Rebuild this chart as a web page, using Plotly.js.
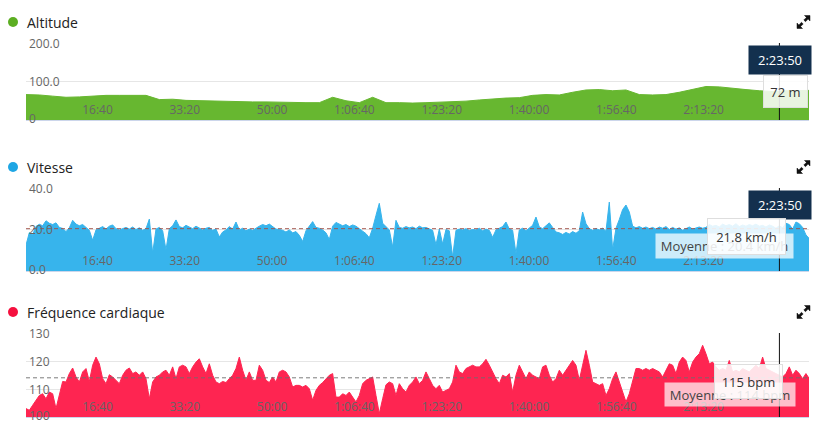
<!DOCTYPE html>
<html>
<head>
<meta charset="utf-8">
<script src="https://cdn.plot.ly/plotly-3.0.1.min.js"></script>
<style>
html,body{margin:0;padding:0;background:#fff;}
#chart{width:817px;height:427px;}
</style>
</head>
<body>
<div id="chart"></div>
<script>
// ---------------- data ----------------
const SAMPLE_STEP_S = 38.18;    // seconds between speed / heart-rate samples
const ALT_STEP_S = 152.72;      // seconds between altitude samples
const X_MAX_S = 8969;           // end of the activity (s)

const TICK_SECONDS = [1000, 2000, 3000, 4000, 5000, 6000, 7000, 8000];
const TICK_LABELS = ['16:40', '33:20', '50:00', '1:06:40', '1:23:20', '1:40:00', '1:56:40', '2:13:20'];

const ALT_TICKS = [0, 100, 200];
const ALT_TICK_LABELS = ['0', '100.0', '200.0'];
const SPEED_TICKS = [0, 20, 40];
const SPEED_TICK_LABELS = ['0.0', '20.0', '40.0'];
const HR_TICKS = [100, 110, 120, 130];
const HR_TICK_LABELS = ['100', '110', '120', '130'];

const altitude = [
  66,65,62,59,60,62,64,64,64,64,
  53,54,51,50,49,48,48,47,47,46,
  46,45,45,59,50,45,59,45,45,44,
  45,46,47,49,52,55,57,58,64,66,
  65,72,78,79,76,78,66,65,66,72,
  80,87,86,82,79,76,74,76,77,77
];

const speed = [
  12.5,18.5,17.5,21.5,22.5,21.8,24.2,23.0,22.4,23.2,
  21.0,20.5,19.0,20.8,24.4,22.6,21.8,22.4,21.0,19.6,
  14.8,19.8,20.6,21.4,20.2,21.6,22.2,20.4,19.8,20.6,
  21.0,20.2,21.2,20.0,20.8,19.6,20.4,25.0,8.6,20.2,
  21.0,19.4,10.2,20.4,21.8,24.6,21.4,20.8,22.0,21.2,
  20.4,21.6,20.8,19.8,20.6,21.0,19.6,20.2,16.4,18.8,
  19.8,21.4,20.2,23.6,19.8,20.6,19.4,20.2,19.6,20.8,
  21.6,22.4,21.8,22.6,21.4,20.2,
  20.0,19.6,18.8,19.8,18.4,19.0,17.2,14.2,19.4,21.8,
  23.8,21.0,20.6,19.8,18.4,15.2,21.6,23.4,22.6,21.8,
  22.4,21.4,22.2,21.6,20.4,19.2,18.0,16.0,20.6,26.8,
  32.6,23.0,21.2,19.8,11.6,24.4,21.0,20.6,21.4,20.8,
  21.2,20.4,21.6,20.8,21.0,20.2,19.6,12.6,20.2,13.0,
  20.0,19.4,6.8,19.6,20.2,19.8,20.4,19.6,20.0,19.8,
  20.6,19.4,20.2,19.6,16.2,19.8,20.6,21.4,23.6,20.2,
  19.6,8.4,19.8,20.6,19.4,20.8,22.0,26.0,21.2,20.4,
  21.8,23.2,21.0,18.8,
  18.4,17.6,18.6,17.8,19.0,18.2,19.4,28.4,22.8,20.4,
  19.6,20.4,19.8,20.6,19.2,33.2,10.2,20.6,24.8,29.6,
  31.8,28.4,21.6,20.8,21.4,20.6,21.2,20.4,21.0,20.2,
  21.2,20.6,21.4,20.0,21.0,20.2,20.8,19.6,20.4,21.2,
  20.2,20.8,21.2,20.6,21.0,22.4,21.6,22.0,21.2,22.6,
  21.8,22.4,21.6,22.8,21.4,22.2,21.6,22.4,21.8,22.6,
  21.6,22.0,21.2,22.2,21.6,20.6,21.8,20.8,23.0,22.4,
  20.2,23.6,22.8,21.0,17.4,15.6
];

const heartRate = [
  103.0,102.4,104.2,106.0,107.7,108.3,106.5,108.9,108.3,103.0,
  107.7,112.7,112.5,115.5,117.5,114.3,112.5,116.1,117.3,112.7,
  118.5,121.4,119.0,113.7,111.9,115.1,114.3,113.1,111.9,114.9,
  116.7,117.5,115.5,116.1,114.9,116.1,113.7,106.5,112.5,114.3,
  114.9,116.1,116.7,114.9,117.9,113.7,117.9,118.5,117.9,115.5,
  117.9,119.6,120.8,117.9,115.5,119.0,114.9,112.5,111.9,112.7,
  112.3,113.7,114.9,117.3,121.4,116.7,113.1,116.1,113.1,113.1,
  118.5,116.7,113.1,112.3,114.3,112.5,
  116.1,116.7,116.1,114.3,110.7,111.3,111.3,110.7,111.3,110.1,
  106.0,109.5,111.3,112.3,113.7,114.9,115.5,107.1,107.1,108.3,
  107.7,108.9,107.1,105.4,107.7,111.9,113.1,113.7,114.3,107.7,
  101.2,106.5,111.5,112.5,111.9,107.7,111.9,110.1,108.9,111.3,
  112.5,114.3,111.9,113.1,116.1,113.7,111.3,110.1,111.3,108.9,
  109.5,110.1,112.5,118.5,116.1,115.5,117.3,117.9,118.5,117.9,
  117.9,119.0,120.6,118.5,116.1,113.7,111.9,114.9,114.3,115.5,
  108.9,114.9,118.5,116.1,113.7,116.1,114.9,114.3,113.7,117.9,
  118.5,114.9,112.5,113.7,
  116.7,114.9,116.7,118.5,120.2,118.5,113.1,118.5,123.8,118.5,
  112.5,111.9,111.3,111.9,107.7,110.1,113.7,116.1,112.5,108.9,
  105.4,108.3,112.5,117.3,117.3,116.7,117.3,116.7,117.3,116.7,
  116.1,114.3,116.7,119.0,118.5,115.5,119.6,121.4,120.2,116.1,
  119.6,121.4,122.6,125.6,122.6,119.0,119.6,117.9,116.7,117.3,
  116.7,120.2,116.1,116.7,116.1,117.3,116.7,116.1,117.3,118.5,
  117.3,121.4,117.3,116.7,116.1,115.5,114.9,114.3,115.5,117.9,
  114.9,116.7,115.5,113.7,115.5,113.7
];

const SPEED_AVG = 20.4;
const HR_AVG = 114;
const CURSOR_S = 8630;
const CURSOR_LABEL = '2:23:50';
const ALT_AT_CURSOR = '72 m';
const SPEED_AT_CURSOR = '21.8 km/h';
const HR_AT_CURSOR = '115 bpm';
const SPEED_AVG_LABEL = 'Moyenne : 20.4 km/h';
const HR_AVG_LABEL = 'Moyenne : 114 bpm';

// ---------------- layout helpers ----------------
const W = 817, H = 427;
const FONT = 'Open Sans, Noto Sans, sans-serif';
const px = x => x / W;
const py = y => 1 - y / H;
const times = (arr, step) => arr.map((_, i) => i * step);

const PANELS = [
  {k: '', title: 'Altitude', titleY: 22, top: 43, bottom: 120, color: '#67b730', dot: '#5cae22',
   y: altitude, step: ALT_STEP_S, range: [0, 200], tv: ALT_TICKS, tt: ALT_TICK_LABELS},
  {k: '2', title: 'Vitesse', titleY: 167, top: 188, bottom: 271, color: '#37b4ec', dot: '#1ea6e4',
   y: speed, step: SAMPLE_STEP_S, range: [0, 40], tv: SPEED_TICKS, tt: SPEED_TICK_LABELS},
  {k: '3', title: 'Fréquence cardiaque', titleY: 312, top: 333, bottom: 417, color: '#fe2551', dot: '#f5103e',
   y: heartRate, step: SAMPLE_STEP_S, range: [100, 130], tv: HR_TICKS, tt: HR_TICK_LABELS}
];

const traces = [];
const layout = {
  width: W, height: H,
  margin: {l: 0, r: 0, t: 0, b: 0},
  paper_bgcolor: '#fff', plot_bgcolor: '#fff',
  showlegend: false, hovermode: false,
  font: {family: FONT},
  shapes: [], annotations: []
};

function iconPath(cx, cy, s) {
  const p = (dx, dy) => `${px(cx + s * dx)},${py(cy + s * dy)}`;
  return `M${p(6.5,-6.5)} L${p(6.5,-1)} L${p(4.6,-2.9)} L${p(2,-0.3)} L${p(0.3,-2)} L${p(2.9,-4.6)} L${p(1,-6.5)} Z ` +
         `M${p(-6.5,6.5)} L${p(-6.5,1)} L${p(-4.6,2.9)} L${p(-2,0.3)} L${p(-0.3,2)} L${p(-2.9,4.6)} L${p(-1,6.5)} Z`;
}

PANELS.forEach(P => {
  traces.push({
    type: 'scatter', mode: 'lines',
    x: times(P.y, P.step), y: P.y,
    xaxis: 'x' + P.k, yaxis: 'y' + P.k,
    fill: 'tozeroy', fillcolor: P.color,
    line: {color: P.color, width: 1},
    hoverinfo: 'skip'
  });
  layout['xaxis' + P.k] = {
    domain: [px(26), px(809)], range: [0, X_MAX_S], anchor: 'y' + P.k,
    tickmode: 'array', tickvals: TICK_SECONDS, ticktext: TICK_LABELS,
    ticklabelposition: 'inside left', ticks: '',
    showgrid: false, zeroline: false,
    showline: true, linecolor: '#ccd6eb', linewidth: 1,
    tickfont: {family: FONT, size: 12, color: '#666'}, fixedrange: true
  };
  layout['yaxis' + P.k] = {
    domain: [py(P.bottom), py(P.top)], range: P.range, anchor: 'x' + P.k,
    tickmode: 'array', tickvals: P.tv, showticklabels: false, ticks: '',
    showgrid: true, gridcolor: '#e6e6e6', gridwidth: 1,
    zeroline: false, showline: false, fixedrange: true
  };
  // y tick labels, drawn inside the plot on the left
  P.tv.forEach((v, i) => {
    layout.annotations.push({
      xref: 'paper', yref: 'y' + P.k, x: px(27), y: v,
      xanchor: 'left', yanchor: 'middle', showarrow: false,
      yshift: i === 0 ? 2 : 0,
      text: P.tt[i], font: {family: FONT, size: 12, color: '#666'}
    });
  });
  // title + coloured dot
  layout.annotations.push({
    xref: 'paper', yref: 'paper', x: px(25), y: py(P.titleY),
    xanchor: 'left', yanchor: 'middle', showarrow: false,
    text: P.title, font: {family: FONT, size: 14, color: '#222'}
  });
  layout.shapes.push({
    type: 'circle', xref: 'paper', yref: 'paper',
    x0: px(8), x1: px(18), y0: py(P.titleY + 5), y1: py(P.titleY - 5),
    fillcolor: P.dot, line: {width: 0}
  });
  // expand icon
  layout.shapes.push({
    type: 'path', xref: 'paper', yref: 'paper', path: iconPath(803.5, P.titleY, 1),
    fillcolor: '#111', line: {color: '#111', width: 0.5}
  });
  // cursor line
  layout.shapes.push({
    type: 'line', xref: 'x' + P.k, x0: CURSOR_S, x1: CURSOR_S,
    yref: 'y' + P.k + ' domain', y0: 0, y1: 1,
    line: {color: '#111', width: 1}
  });
});

// average lines
layout.shapes.push({
  type: 'line', xref: 'x2 domain', x0: 0, x1: 1, yref: 'y2', y0: SPEED_AVG, y1: SPEED_AVG,
  line: {color: 'rgba(160,80,70,0.9)', width: 1, dash: '4px,3px'}
});
layout.shapes.push({
  type: 'line', xref: 'x3 domain', x0: 0, x1: 1, yref: 'y3', y0: HR_AVG, y1: HR_AVG,
  line: {color: 'rgba(110,110,110,0.9)', width: 1, dash: '4px,3px'}
});

function box(left, top, w, h, text, opts) {
  layout.annotations.push(Object.assign({
    xref: 'paper', yref: 'paper', x: px(left), y: py(top),
    xanchor: 'left', yanchor: 'top', showarrow: false,
    width: w, height: h, borderpad: 0, align: 'center', valign: 'middle',
    text: text, font: {family: FONT, size: 13, color: '#333'}
  }, opts));
}

// altitude tooltip
box(748, 45, 62, 28, CURSOR_LABEL, {bgcolor: '#13304e', font: {family: FONT, size: 13, color: '#fff'}});
box(763, 75, 43, 31, ALT_AT_CURSOR, {bgcolor: 'rgba(255,255,255,0.85)', bordercolor: '#dedede', borderwidth: 1});

// speed tooltip
box(748, 190, 62, 28, CURSOR_LABEL, {bgcolor: '#13304e', font: {family: FONT, size: 13, color: '#fff'}});
box(655, 233, 137, 24, SPEED_AVG_LABEL, {bgcolor: 'rgba(255,255,255,0.75)', font: {family: FONT, size: 13, color: '#444'}});
box(707, 218, 77, 35, SPEED_AT_CURSOR, {bgcolor: 'rgba(255,255,255,0.87)', bordercolor: '#dedede', borderwidth: 1});

// heart-rate tooltip
box(664, 382, 130, 23, HR_AVG_LABEL, {bgcolor: 'rgba(255,255,255,0.7)', font: {family: FONT, size: 13, color: '#444'}});
box(714, 364, 67, 33, HR_AT_CURSOR, {bgcolor: 'rgba(255,255,255,0.87)', bordercolor: '#dedede', borderwidth: 1});

Plotly.newPlot('chart', traces, layout, {displayModeBar: false, staticPlot: true});
</script>
</body>
</html>
